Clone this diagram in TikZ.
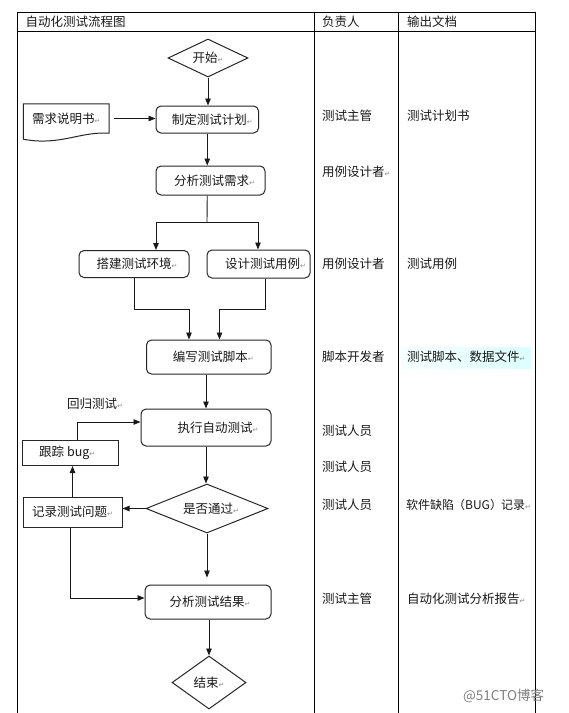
\documentclass[tikz,border=0pt]{standalone}
\usepackage{fontspec}
\setmainfont{Noto Sans CJK SC}
\newfontfamily\symfont{DejaVu Sans}
\usetikzlibrary{shapes.geometric,arrows.meta}
\newcommand\parmk{{\symfont\fontsize{7}{7}\selectfont\textcolor{black!45}{↵}}}
\begin{document}
\begin{tikzpicture}[x=1pt,y=-1pt,
  every node/.style={font=\fontsize{12.5}{14}\selectfont, text=black!90},
  box/.style={draw=black!85, line width=1pt, rounded corners=5pt, inner sep=0pt},
  sqbox/.style={draw=black!85, line width=1pt, inner sep=0pt},
  dia/.style={diamond, draw=black!85, line width=1pt, inner sep=0pt, aspect=2},
  arr/.style={-{Triangle[length=7pt,width=5.5pt]}, line width=0.9pt, draw=black!90},
  conn/.style={line width=0.9pt, draw=black!90},
  col/.style={anchor=west, inner sep=0pt},
  tbl/.style={line width=0.8pt, draw=black}]
\useasboundingbox (0,0) rectangle (569,713);
\fill[white] (0,0) rectangle (569,713);
% table
\draw[tbl] (17.5,713) -- (17.5,12.5) -- (535.5,12.5) -- (535.5,713);
\draw[tbl] (17.5,31.5) -- (535.5,31.5);
\draw[tbl] (314.5,12.5) -- (314.5,713);
\draw[tbl] (398.5,12.5) -- (398.5,713);
\node[col] (h1) at (25.5,22) {自动化测试流程图};
\node[col] (h2) at (322,22) {负责人};
\node[col] (h3) at (407,22) {输出文档};
% flow nodes
\node[dia, minimum width=80pt, minimum height=38pt] (start) at (208,58) {开始\parmk};
\node[box, minimum width=102.5pt, minimum height=27pt] (plan) at (207.25,119.5) {\hspace*{10pt}制定测试计划\parmk};
\node[inner sep=0pt, minimum width=85.4pt, minimum height=29pt] (req) at (66.3,118.5) {需求说明书\parmk};
\draw[line width=1pt, draw=black!85] (req.south east) -- (req.north east) -- (req.north west) -- ([yshift=-6pt]req.south west) .. controls +(36,7) and +(-29,-2) .. (req.south east) -- cycle;
\node[box, minimum width=109pt, minimum height=29pt] (anreq) at (210.5,180.5) {\hspace*{8pt}分析测试需求\parmk};
\node[box, minimum width=110pt, minimum height=27pt] (env) at (134,264) {\hspace*{6pt}搭建测试环境\parmk};
\node[box, minimum width=103pt, minimum height=28pt] (case) at (258.5,264) {\hspace*{14pt}设计测试用例\parmk};
\node[box, minimum width=124.5pt, minimum height=34pt] (script) at (208.75,357) {\hspace*{9pt}编写测试脚本\parmk};
\node[box, minimum width=130pt, minimum height=37pt] (exec) at (206,427.5) {\hspace*{24pt}执行自动测试\parmk};
\node[inner sep=0pt] (regress) at (95,404) {回归测试\parmk};
\node[sqbox, minimum width=96.5pt, minimum height=25pt] (track) at (70.25,453) {\hspace*{-6pt}跟踪 bug\parmk};
\node[dia, minimum width=122pt, minimum height=49pt] (dec) at (207,508.5) {\hspace*{8pt}是否通过\parmk};
\node[sqbox, minimum width=99pt, minimum height=30pt] (record) at (72.5,512) {记录测试问题\parmk};
\node[box, minimum width=126pt, minimum height=34pt] (result) at (208,602) {\hspace*{4pt}分析测试结果\parmk};
\node[dia, minimum width=74pt, minimum height=53pt] (end) at (209,682.5) {结束\parmk};
% connectors
\draw[arr] (start.south) -- (start.south |- plan.north);
\draw[arr] ([xshift=4.5pt]req.east) -- (req.east -| plan.west);
\draw[arr] (plan.south) -- (plan.south |- anreq.north);
\coordinate (fork) at (207,222);
\coordinate (fL) at (156,222);
\coordinate (fR) at (258,222);
\draw[conn] (plan.south |- anreq.south) -- (fork);
\draw[conn] (fL) -- (fR);
\draw[arr] (fL) -- (fL |- env.north);
\draw[arr] (fR) -- (fR |- case.north);
\coordinate (jL) at (189,309);
\coordinate (jR) at (219.5,309);
\draw[arr] (env.south) |- (jL) -- (jL |- script.north);
\draw[arr] ([xshift=6.5pt]case.south) |- (jR) -- (jR |- script.north);
\draw[arr] (exec.center |- script.south) -- (exec.north);
\draw[arr] ([xshift=7pt]track.north) |- ([yshift=5.5pt]exec.west);
\draw[arr] (exec.south) -- (exec.south |- dec.north);
\draw[arr] (dec.west) -- (dec.west -| record.east);
\draw[arr] (record.north) -- (record.north |- track.south);
\draw[arr] ([xshift=-2.5pt]record.south) |- ([yshift=4pt]result.west);
\draw[arr, shorten >=7pt] (dec.south) -- (dec.south |- result.north);
\draw[arr] (result.south -| end.north) -- (end.north);
% responsible column
\node[col] (r1) at (322,116) {测试主管};
\node[col] (r2) at (322,172) {用例设计者\parmk};
\node[col] (r3) at (322,264) {用例设计者};
\node[col] (r4) at (322,357) {脚本开发者};
\node[col] (r5) at (322,431) {测试人员};
\node[col] (r6) at (322,467) {测试人员};
\node[col] (r7) at (322,505) {测试人员};
\node[col] (r8) at (322,599) {测试主管};
% output column
\shade[left color=cyan!3, right color=cyan!14] (401,347) rectangle (531,368);
\node[col] (o1) at (407,116) {测试计划书};
\node[col] (o2) at (407,264) {测试用例};
\node[col] (o3) at (407,357) {测试脚本、数据文件\parmk};
\node[col, font=\fontsize{12}{14}\selectfont] (o4) at (406,505) {软件缺陷\hspace{-1pt}（BUG）\hspace{-1pt}记录\parmk};
\node[col] (o5) at (407,599) {自动化测试分析报告\parmk};
% watermark
\node[col, text=black!50, font=\fontsize{13.5}{15}\selectfont] (wm) at (463,696) {@51CTO博客};
\end{tikzpicture}
\end{document}
